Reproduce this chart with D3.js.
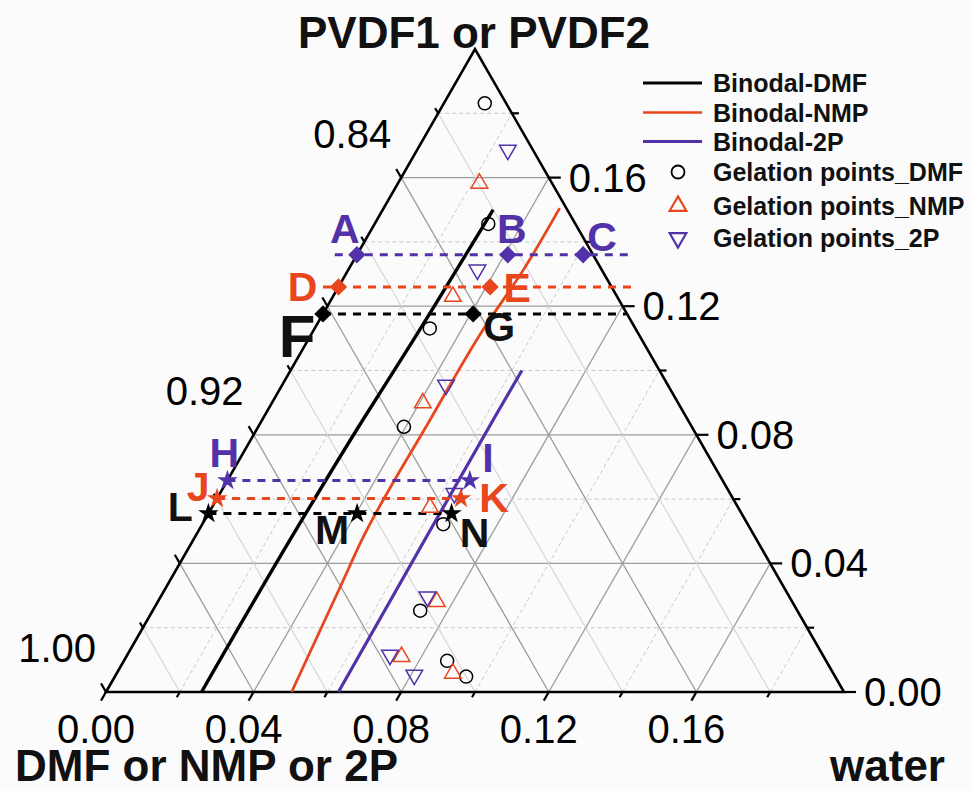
<!DOCTYPE html>
<html>
<head>
<meta charset="utf-8">
<script src="https://cdn.jsdelivr.net/npm/d3@7"></script>
<style>
  body { margin: 0; background: #fbfbfb; }
  svg { display: block; }
</style>
</head>
<body>
<svg id="chart" width="972" height="790"></svg>
<script>
// Ternary window: PVDF 0-0.20, water 0-0.20, solvent 0.80-1.00.
// Every composition below is written as [PVDF, water]; solvent is the rest.

const pvdfTicks = [0.00, 0.04, 0.08, 0.12, 0.16];     // right axis
const waterTicks = [0.00, 0.04, 0.08, 0.12, 0.16];    // bottom axis
const solventTicks = [1.00, 0.92, 0.84];              // left axis

// Binodal curves
const binodalDMF = [[0, 0.0259], [0.047, 0.0262], [0.085, 0.0273], [0.106, 0.0284], [0.150, 0.0299]];
const binodalNMP = [[0, 0.0503], [0.035, 0.0469], [0.047, 0.0457], [0.085, 0.0455], [0.112, 0.0458], [0.132, 0.0475], [0.1505, 0.0477]];
const binodal2P  = [[0, 0.0630], [0.034, 0.0628], [0.085, 0.0626], [0.100, 0.0627]];

// Gelation points
const gelationDMF = [[0.1831, 0.0111], [0.1456, 0.0308], [0.1131, 0.0312], [0.0825, 0.0395],
                     [0.0522, 0.0653], [0.0253, 0.0725], [0.0097, 0.0876], [0.0048, 0.0952]];
const gelationNMP = [[0.1582, 0.0221], [0.1230, 0.0325], [0.0899, 0.0409], [0.0574, 0.0591],
                     [0.0281, 0.0756], [0.0110, 0.0746], [0.0058, 0.0911]];
const gelation2P  = [[0.1686, 0.0246], [0.1313, 0.0350], [0.0955, 0.0444], [0.0618, 0.0635],
                     [0.0296, 0.0723], [0.0115, 0.0712], [0.0053, 0.0809]];

// Cast-solution compositions (diamonds)
const castPoints = [
  { id: "A", series: "2P",  p: 0.136,  w: 0 },
  { id: "B", series: "2P",  p: 0.136,  w: 0.0409 },
  { id: "C", series: "2P",  p: 0.136,  w: 0.0613 },
  { id: "D", series: "NMP", p: 0.126,  w: 0 },
  { id: "E", series: "NMP", p: 0.126,  w: 0.0411 },
  { id: "F", series: "DMF", p: 0.1176, w: 0 },
  { id: "G", series: "DMF", p: 0.1176, w: 0.0407 }
];
// Second set of compositions (stars)
const starPoints = [
  { id: "H", series: "2P",  p: 0.0658, w: 0 },
  { id: "I", series: "2P",  p: 0.0658, w: 0.0657 },
  { id: "J", series: "NMP", p: 0.0602, w: 0 },
  { id: "K", series: "NMP", p: 0.0602, w: 0.0661 },
  { id: "L", series: "DMF", p: 0.0555, w: 0 },
  { id: "M", series: "DMF", p: 0.0555, w: 0.0403 },
  { id: "N", series: "DMF", p: 0.0555, w: 0.0659 }
];
// Dashed constant-PVDF rows through the marked compositions
const guideRows = [
  { series: "2P",  p: 0.136,  from: -0.006, to: 0.0745 },
  { series: "NMP", p: 0.126,  from: -0.0042, to: 0.0795 },
  { series: "DMF", p: 0.1176, from: 0, to: 0.0821 },
  { series: "2P",  p: 0.0658, from: 0, to: 0.0657 },
  { series: "NMP", p: 0.0602, from: 0, to: 0.0661 },
  { series: "DMF", p: 0.0555, from: 0, to: 0.0659 }
];

// ---------- styling ----------
const FONT = '"Liberation Sans", Arial, Helvetica, sans-serif';
const color = { DMF: "#000000", NMP: "#e8461c", "2P": "#5232a8" };
const span = 0.2;

// Screen mapping: horizontal position follows water + PVDF/2, vertical follows PVDF
const xScale = d3.scaleLinear().domain([0, span]).range([106, 844]);
const yScale = d3.scaleLinear().domain([0, span]).range([692, 49]);
const pt = (p, w) => [xScale(w + p / 2), yScale(p)];

const svg = d3.select("#chart");
svg.append("rect").attr("width", 972).attr("height", 790).attr("fill", "#fbfbfb");

// ---------- grid ----------
const grid = svg.append("g");
const steps = d3.range(1, 10).map(k => ({ v: k * 0.02, major: k % 2 === 0 }));
function gridLine(a, b, style) {
  grid.append("line")
    .attr("x1", a[0]).attr("y1", a[1]).attr("x2", b[0]).attr("y2", b[1])
    .attr("stroke", style.stroke).attr("stroke-width", style.width)
    .attr("stroke-dasharray", style.dash || null);
}
const majorStyle = { stroke: "#9c9c9c", width: 1.3 };
const minorDashed = { stroke: "#c9c9c9", width: 1, dash: "4,3" };
const minorSolid = { stroke: "#d3d3d3", width: 1.1 };
steps.forEach(s => {
  // constant PVDF (horizontal)
  gridLine(pt(s.v, 0), pt(s.v, span - s.v), s.major ? majorStyle : minorDashed);
  // constant water (parallel to left side)
  gridLine(pt(0, s.v), pt(span - s.v, s.v), s.major ? majorStyle : minorDashed);
  // constant solvent (parallel to right side)
  gridLine(pt(0, s.v), pt(s.v, 0), s.major ? majorStyle : minorSolid);
});

// ---------- frame and ticks ----------
const frame = svg.append("g");
frame.append("path")
  .attr("d", d3.line()([pt(0, 0), pt(span, 0), pt(0, span)]) + "Z")
  .attr("fill", "none").attr("stroke", "#000").attr("stroke-width", 2.6)
  .attr("stroke-linejoin", "miter");

const c60 = Math.sqrt(3) / 2;
d3.range(0, 10).forEach(k => {
  const v = k * 0.02, major = k % 2 === 0;
  const len = major ? 10 : 6;
  const b = pt(0, v);          // bottom: water ticks
  frame.append("line").attr("x1", b[0]).attr("y1", b[1])
    .attr("x2", b[0] - 0.5 * len).attr("y2", b[1] + c60 * len);
  const l = pt(v, 0);          // left: solvent ticks
  frame.append("line").attr("x1", l[0]).attr("y1", l[1])
    .attr("x2", l[0] - 0.5 * len).attr("y2", l[1] - c60 * len);
  const r = pt(v, span - v);   // right: PVDF ticks
  frame.append("line").attr("x1", r[0]).attr("y1", r[1])
    .attr("x2", r[0] + (major ? 12 : 7)).attr("y2", r[1]);
});
frame.selectAll("line").attr("stroke", "#000").attr("stroke-width", 2.2);

const fmt = d3.format(".2f");
const labels = svg.append("g").attr("font-family", FONT).attr("font-size", 40).attr("fill", "#000");
waterTicks.forEach(v => {
  const q = pt(0, v);
  labels.append("text").attr("x", q[0] - 10).attr("y", q[1] + 51)
    .attr("text-anchor", "middle").text(fmt(v));
});
pvdfTicks.forEach(v => {
  const q = pt(v, span - v);
  labels.append("text").attr("x", q[0] + 20).attr("y", q[1] + 14)
    .attr("text-anchor", "start").text(fmt(v));
});
solventTicks.forEach(s => {
  const q = pt(1 - s, 0);
  labels.append("text").attr("x", q[0] - 10).attr("y", q[1] - 30)
    .attr("text-anchor", "end").text(fmt(s));
});

// Component names at the corners
const names = svg.append("g").attr("font-family", FONT).attr("font-weight", "bold")
  .attr("font-size", 44).attr("fill", "#111");
names.append("text").attr("x", 474).attr("y", 48).attr("text-anchor", "middle").text("PVDF1 or PVDF2");
names.append("text").attr("x", 15).attr("y", 781).attr("text-anchor", "start").text("DMF or NMP or 2P");
names.append("text").attr("x", 945).attr("y", 781).attr("text-anchor", "end").text("water");

// ---------- binodal curves ----------
const curve = d3.line().x(d => pt(d[0], d[1])[0]).y(d => pt(d[0], d[1])[1]).curve(d3.curveMonotoneY);
const curves = svg.append("g").attr("fill", "none").attr("stroke-linecap", "butt");
curves.append("path").attr("d", curve(binodalDMF)).attr("stroke", color.DMF).attr("stroke-width", 3.4);
curves.append("path").attr("d", curve(binodalNMP)).attr("stroke", color.NMP).attr("stroke-width", 2.8);
curves.append("path").attr("d", curve(binodal2P)).attr("stroke", color["2P"]).attr("stroke-width", 3.2);

// ---------- dashed dope rows ----------
svg.append("g").selectAll("line").data(guideRows).join("line")
  .attr("x1", d => pt(d.p, d.from)[0]).attr("y1", d => pt(d.p, d.from)[1])
  .attr("x2", d => pt(d.p, d.to)[0]).attr("y2", d => pt(d.p, d.to)[1])
  .attr("stroke", d => color[d.series]).attr("stroke-width", 3)
  .attr("stroke-dasharray", "8,7");

// ---------- gelation points ----------
const circleSym = d3.symbol().type(d3.symbolCircle).size(Math.PI * 6.5 * 6.5);
const triSym = d3.symbol().type(d3.symbolTriangle).size(120);
const gel = svg.append("g").attr("fill", "none").attr("stroke-width", 1.5);
gel.selectAll(".dmf").data(gelationDMF).join("path").attr("class", "dmf")
  .attr("d", circleSym).attr("stroke", color.DMF)
  .attr("transform", d => `translate(${pt(d[0], d[1])})`);
gel.selectAll(".nmp").data(gelationNMP).join("path").attr("class", "nmp")
  .attr("d", triSym).attr("stroke", color.NMP)
  .attr("transform", d => `translate(${pt(d[0], d[1])})`);
gel.selectAll(".tp").data(gelation2P).join("path").attr("class", "tp")
  .attr("d", triSym).attr("stroke", color["2P"])
  .attr("transform", d => `translate(${pt(d[0], d[1])}) rotate(180)`);

// ---------- marked compositions ----------
const diamondSym = d3.symbol().type(d3.symbolSquare).size(150);
const starSym = d3.symbol().type(d3.symbolStar).size(130);
const marks = svg.append("g");
marks.selectAll(".dia").data(castPoints).join("path").attr("class", "dia")
  .attr("d", diamondSym).attr("fill", d => color[d.series])
  .attr("transform", d => `translate(${pt(d.p, d.w)}) rotate(45)`);
marks.selectAll(".star").data(starPoints).join("path").attr("class", "star")
  .attr("d", starSym).attr("fill", d => color[d.series])
  .attr("transform", d => `translate(${pt(d.p, d.w)})`);

// Letter tags, offset from their markers
const tagOffset = {
  A: [-12, -27], B: [4, -27], C: [19, -19], D: [-36, -1], E: [27, 0],
  F: [-26, 21], G: [26, 12], H: [-3, -28], I: [18, -23], J: [-19, -12],
  K: [33, -1], L: [-28, -7], M: [-25, 16], N: [23, 19]
};
svg.append("g").attr("font-family", FONT).attr("font-weight", "bold")
  .selectAll("text").data(castPoints.concat(starPoints)).join("text")
  .attr("x", d => pt(d.p, d.w)[0] + tagOffset[d.id][0])
  .attr("y", d => pt(d.p, d.w)[1] + tagOffset[d.id][1])
  .attr("dy", "0.36em")
  .attr("text-anchor", "middle")
  .attr("font-size", d => d.id === "F" ? 60 : 41)
  .attr("fill", d => d.series === "DMF" ? "#111" : color[d.series])
  .text(d => d.id);

// ---------- legend ----------
const legend = svg.append("g").attr("font-family", FONT).attr("font-weight", "bold").attr("font-size", 25);
const lineItems = [
  { label: "Binodal-DMF", series: "DMF", y: 83, width: 3 },
  { label: "Binodal-NMP", series: "NMP", y: 112.5, width: 2.5 },
  { label: "Binodal-2P", series: "2P", y: 141.5, width: 3 }
];
lineItems.forEach(it => {
  legend.append("line").attr("x1", 643).attr("x2", 702).attr("y1", it.y).attr("y2", it.y)
    .attr("stroke", color[it.series]).attr("stroke-width", it.width);
  legend.append("text").attr("x", 713).attr("y", it.y).attr("dy", "0.36em").attr("fill", "#111").text(it.label);
});
const symItems = [
  { label: "Gelation points_DMF", series: "DMF", y: 172, sym: circleSym, rot: 0 },
  { label: "Gelation points_NMP", series: "NMP", y: 206, sym: triSym, rot: 0 },
  { label: "Gelation points_2P", series: "2P", y: 238, sym: triSym, rot: 180 }
];
symItems.forEach(it => {
  legend.append("path").attr("d", it.sym()).attr("fill", "none")
    .attr("stroke", color[it.series]).attr("stroke-width", it.series === "DMF" ? 1.8 : 2.2)
    .attr("transform", `translate(678,${it.y}) rotate(${it.rot})`);
  legend.append("text").attr("x", 713).attr("y", it.y).attr("dy", "0.36em").attr("fill", "#111").text(it.label);
});
</script>
</body>
</html>
